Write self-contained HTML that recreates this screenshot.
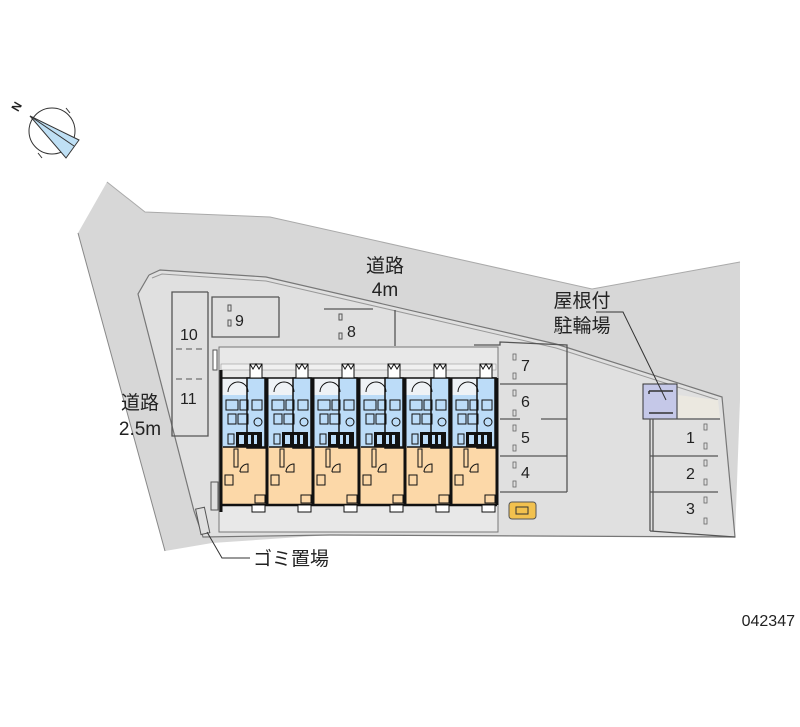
<!DOCTYPE html>
<html><head><meta charset="utf-8"><style>
html,body{margin:0;padding:0;background:#fff;width:800px;height:727px;overflow:hidden}
svg{display:block}
text{font-family:"Liberation Sans","Noto Sans CJK JP",sans-serif;fill:#222}
</style></head><body>
<svg width="800" height="727" viewBox="0 0 800 727" xmlns="http://www.w3.org/2000/svg">
<!-- compass -->
<circle cx="52" cy="131" r="23" fill="none" stroke="#333" stroke-width="1"/>
<polygon points="30,116 79,140 66,158" fill="#bfe0f5" stroke="#333" stroke-width="1"/>
<line x1="30" y1="116" x2="74" y2="146" stroke="#333" stroke-width="1"/>
<line x1="38" y1="153" x2="42" y2="158" stroke="#333"/>
<line x1="66" y1="108" x2="70" y2="113" stroke="#333"/>
<text x="12" y="110" font-size="12" font-weight="bold" transform="rotate(-60 17 106)">N</text>

<!-- road region -->
<polygon points="107,182 145,212 270,217 592,289 740,262 740,400 735,537 330,535 212,543 165,551 78,233" fill="#d7d7d7"/>
<polyline points="107,182 145,212 270,217 592,289 740,262" fill="none" stroke="#aaa" stroke-width="1"/>
<line x1="78" y1="233" x2="165" y2="551" stroke="#888" stroke-width="1"/>
<!-- site -->
<polygon points="149,275 160,270 266,277 556,344 722,397 735,537 330,535 203,537 194,511 138,294" fill="#e0e0e0"/>
<polyline points="149,275 160,270 266,277 556,344 722,397 735,537 330,535 203,537 194,511 138,294 149,275" fill="none" stroke="#777" stroke-width="1.2"/>
<polyline points="152,278 162,274 266,281 556,348 718,400" fill="none" stroke="#999" stroke-width="1"/>
<polygon points="678,395 718,400 720,418 678,418" fill="#ebe8e0"/>

<!-- parking 9,10,11 -->
<polyline points="279,297 212,297 212,337 279,337 279,297" fill="none" stroke="#555" stroke-width="1.3"/>
<rect x="228" y="305" width="3" height="6" fill="none" stroke="#555"/>
<rect x="228" y="320" width="3" height="6" fill="none" stroke="#555"/>
<text x="235" y="326" font-size="16">9</text>
<polyline points="208,292 172,292 172,436 208,436 208,292" fill="none" stroke="#555" stroke-width="1.3"/>
<line x1="176" y1="349" x2="206" y2="349" stroke="#555" stroke-dasharray="6,4"/>
<line x1="176" y1="379" x2="206" y2="379" stroke="#555" stroke-dasharray="6,4"/>
<text x="180" y="340" font-size="16">10</text>
<text x="180" y="404" font-size="16">11</text>
<line x1="324" y1="309" x2="373" y2="309" stroke="#555" stroke-width="1.3"/>
<rect x="339" y="314" width="3" height="6" fill="none" stroke="#555"/>
<rect x="339" y="333" width="3" height="6" fill="none" stroke="#555"/>
<text x="347" y="337" font-size="16">8</text>
<line x1="395" y1="310" x2="395" y2="346" stroke="#555" stroke-width="1.3"/>

<!-- building -->
<rect x="219" y="347" width="279" height="185" fill="#e8e8e8" stroke="#777"/>
<rect x="221" y="364" width="275" height="6" fill="#f0f0f0" stroke="#999" stroke-width="0.6"/>
<rect x="221" y="378" width="275" height="17" fill="#eef2f6"/>
<rect x="221" y="395" width="275" height="52" fill="#bcdcf8"/>
<rect x="221" y="447" width="275" height="58" fill="#fcd8a8"/>
<g stroke="#111" fill="none">
<line x1="221" y1="370" x2="221" y2="512" stroke-width="3"/>
<line x1="221" y1="505" x2="497" y2="505" stroke-width="2.5"/>
<line x1="221" y1="378" x2="497" y2="378" stroke-width="1.5"/>
</g>
<g id="u">
<rect x="247" y="378" width="18" height="70" fill="#bcdcf8" stroke="#111" stroke-width="1.5"/>
<rect x="250" y="364" width="12" height="14" fill="#fff" stroke="#111"/>
<path d="M250 364 l3 5 l3 -5 l3 5 l3 -5" stroke="#111" fill="none"/>
<rect x="226" y="400" width="12" height="10" fill="none" stroke="#111"/>
<rect x="240" y="400" width="8" height="10" fill="none" stroke="#111"/>
<rect x="252" y="400" width="10" height="10" fill="none" stroke="#111"/>
<rect x="228" y="414" width="8" height="10" fill="none" stroke="#111"/>
<rect x="238" y="414" width="10" height="10" fill="none" stroke="#111"/>
<circle cx="258" cy="422" r="4" fill="none" stroke="#111"/>
<rect x="236" y="432" width="26" height="15" fill="#111"/>
<rect x="239" y="435" width="5" height="9" fill="#bcdcf8"/>
<rect x="248" y="435" width="3" height="9" fill="#bcdcf8"/>
<rect x="254" y="435" width="3" height="9" fill="#bcdcf8"/>
<rect x="228" y="434" width="6" height="10" fill="none" stroke="#111"/>
<path d="M228 392 a10 10 0 0 1 10 -10 M248 392 a10 10 0 0 0 -10 -10" stroke="#111" fill="none"/>
<line x1="223" y1="447" x2="265" y2="447" stroke="#111" stroke-width="1.5"/>
<rect x="234" y="449" width="4" height="18" fill="none" stroke="#111"/>
<path d="M240 472 h8 v-8 a8 8 0 0 0 -8 8" stroke="#111" fill="none"/>
<rect x="225" y="475" width="8" height="10" fill="none" stroke="#111"/>
<rect x="255" y="495" width="10" height="8" fill="none" stroke="#111"/>
<rect x="252" y="505" width="13" height="7" fill="#fff" stroke="#111"/>
<line x1="267" y1="378" x2="267" y2="505" stroke="#111" stroke-width="3"/>
</g>
<use href="#u" x="46"/>
<use href="#u" x="92"/>
<use href="#u" x="138"/>
<use href="#u" x="184"/>
<use href="#u" x="230"/>
<rect x="213" y="350" width="4" height="20" fill="#fff" stroke="#555"/>
<rect x="211" y="482" width="7" height="28" fill="#e0e0e0" stroke="#555"/>
<rect x="198" y="508" width="9" height="26" fill="#e0e0e0" stroke="#555" transform="rotate(-12 202 520)"/>

<!-- parking 4-7 -->
<g stroke="#555" stroke-width="1.3" fill="none">
<polyline points="474,345 500,345 500,342 567,345 567,492"/>
<line x1="500" y1="384" x2="567" y2="384"/>
<line x1="500" y1="419" x2="520" y2="419"/><line x1="541" y1="419" x2="567" y2="419"/>
<line x1="500" y1="456" x2="567" y2="456"/>
<line x1="500" y1="492" x2="567" y2="492"/>
</g>
<g fill="none" stroke="#666" stroke-width="0.8">
<rect x="513" y="354" width="3" height="6"/><rect x="513" y="373" width="3" height="6"/>
<rect x="513" y="390" width="3" height="6"/><rect x="513" y="410" width="3" height="6"/>
<rect x="513" y="425" width="3" height="6"/><rect x="513" y="445" width="3" height="6"/>
<rect x="513" y="462" width="3" height="6"/><rect x="513" y="481" width="3" height="6"/>
</g>
<text x="521" y="371" font-size="16">7</text>
<text x="521" y="407" font-size="16">6</text>
<text x="521" y="443" font-size="16">5</text>
<text x="521" y="478" font-size="16">4</text>
<rect x="509" y="502" width="27" height="17" rx="3" fill="#f2c14e" stroke="#555"/>
<rect x="516" y="507" width="12" height="7" fill="none" stroke="#333"/>

<!-- parking 1-3 & bike -->
<rect x="643" y="384" width="34" height="35" fill="#c5c8e8" stroke="#333"/>
<path d="M649 391 h24 M649 413 h24 M649 391 v3" stroke="#333" fill="none" stroke-width="1.5"/>
<g stroke="#555" stroke-width="1.3" fill="none">
<polyline points="650,531 650,419 720,419"/>
<line x1="653" y1="419" x2="653" y2="531"/>
<line x1="650" y1="456" x2="718" y2="456"/>
<line x1="650" y1="492" x2="718" y2="492"/>
<line x1="650" y1="531" x2="735" y2="537"/>
</g>
<g fill="none" stroke="#666" stroke-width="0.8">
<rect x="704" y="424" width="3" height="6"/><rect x="704" y="443" width="3" height="6"/>
<rect x="704" y="460" width="3" height="6"/><rect x="704" y="479" width="3" height="6"/>
<rect x="704" y="497" width="3" height="6"/><rect x="704" y="518" width="3" height="6"/>
</g>
<text x="686" y="443" font-size="16">1</text>
<text x="686" y="479" font-size="16">2</text>
<text x="686" y="514" font-size="16">3</text>
<polyline points="596,312 623,312 666,400" fill="none" stroke="#333" stroke-width="1"/>

<!-- labels -->
<text x="385" y="272" font-size="19" text-anchor="middle">道路</text>
<text x="385" y="296" font-size="19" text-anchor="middle">4m</text>
<text x="582" y="307" font-size="19" text-anchor="middle">屋根付</text>
<text x="582" y="332" font-size="19" text-anchor="middle">駐輪場</text>
<text x="140" y="409" font-size="19" text-anchor="middle">道路</text>
<text x="140" y="435" font-size="19" text-anchor="middle">2.5m</text>
<polyline points="207,532 222,558 250,558" fill="none" stroke="#333"/>
<text x="253" y="565" font-size="19">ゴミ置場</text>
<text x="795" y="626" font-size="16" text-anchor="end">042347</text>
</svg>
</body></html>
